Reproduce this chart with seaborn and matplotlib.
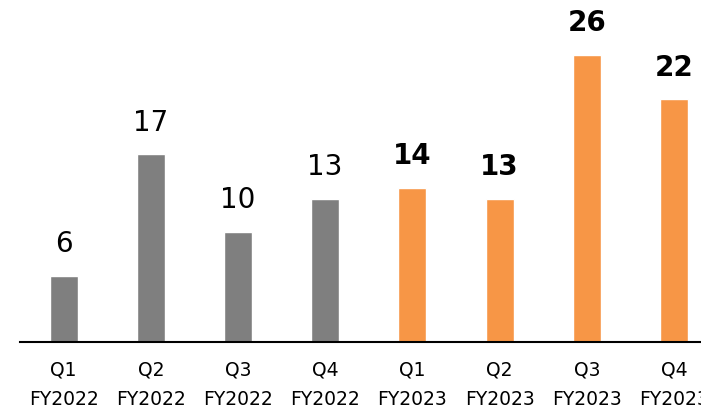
import matplotlib
matplotlib.use("Agg")
import matplotlib.pyplot as plt
import seaborn as sns
import pandas as pd

quarters = ["Q1", "Q2", "Q3", "Q4", "Q1", "Q2", "Q3", "Q4"]
years = ["FY2022"] * 4 + ["FY2023"] * 4
values = [6, 17, 10, 13, 14, 13, 26, 22]
colors = {"FY2022": "#7f7f7f", "FY2023": "#f79646"}

data = pd.DataFrame({
    "label": [q + "\n" + y for q, y in zip(quarters, years)],
    "year": years,
    "value": values,
})

sns.set_style("white")
plt.rcParams["font.family"] = ["DejaVu Sans"]
plt.rcParams["text.color"] = "black"
plt.rcParams["xtick.color"] = "black"

fig = plt.figure(figsize=(7.01, 4.09), dpi=100)
ax = fig.add_axes([20 / 701, 67 / 409, 681 / 701, 331 / 409])

sns.barplot(data=data, x="label", y="value", hue="year", palette=colors,
            dodge=False, width=0.32, legend=False, ax=ax, saturation=1)

# value labels above each bar, bold for the current year
for i, (v, y) in enumerate(zip(values, years)):
    ax.text(i, v + 1.6, str(v), ha="center", va="bottom", fontsize=20, color="black",
            fontweight="bold" if y == "FY2023" else "normal", clip_on=False)

ax.set_xlim(-0.5, 7.31)
ax.set_ylim(0, 30)
ax.set_xlabel("")
ax.set_ylabel("")
ax.set_yticks([])
for s in ["top", "right", "left"]:
    ax.spines[s].set_visible(False)
ax.spines["bottom"].set_color("black")
ax.spines["bottom"].set_linewidth(1.5)
ax.tick_params(axis="x", length=0, pad=13, labelsize=13.5, labelcolor="black")
for lbl in ax.get_xticklabels():
    lbl.set_linespacing(1.7)

fig.savefig("out.png", dpi=100)
